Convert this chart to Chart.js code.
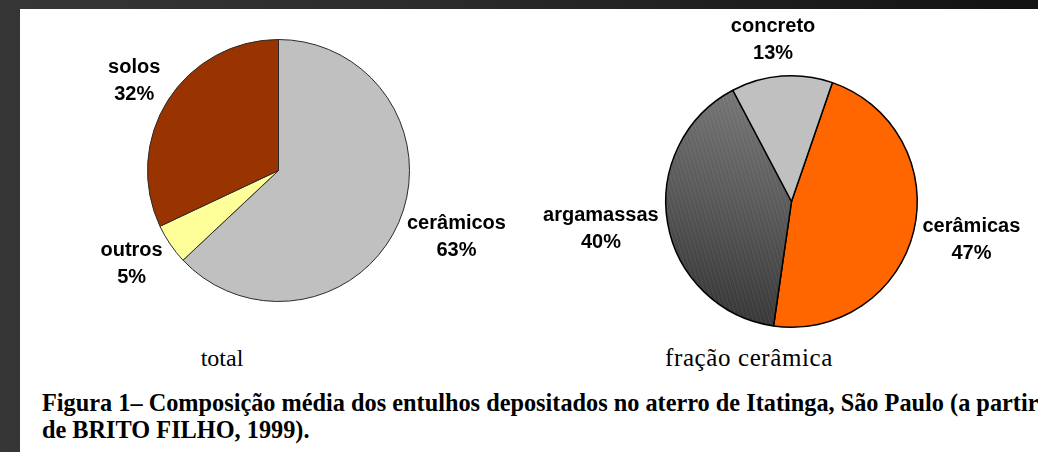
<!DOCTYPE html>
<html lang="pt-BR">
<head>
<meta charset="utf-8">
<script src="https://cdn.jsdelivr.net/npm/chart.js@4.4.1/dist/chart.umd.min.js"></script>
<style>
  html, body {
    margin: 0;
    width: 1038px;
    height: 452px;
    overflow: hidden;
    background: linear-gradient(to right, #363636, #2c2c2c 40%, #121212);
  }
  #folha {
    position: absolute;
    left: 20px;
    top: 9px;
    right: 0;
    bottom: 0;
    background: #ffffff;
    overflow: hidden;
  }
  canvas {
    position: absolute;
  }
  .sub {
    position: absolute;
    font-family: 'Liberation Serif', 'Times New Roman', serif;
    font-size: 24px;
    color: #000;
    white-space: nowrap;
    transform: translateX(-50%);
  }
  .legenda {
    position: absolute;
    left: 22px;
    top: 380px;
    font-family: 'Liberation Serif', 'Times New Roman', serif;
    font-weight: bold;
    font-size: 24.3px;
    line-height: 27px;
    color: #000;
    white-space: nowrap;
  }
</style>
</head>
<body>
<div id="folha">
  <canvas id="grafico-total" width="500" height="330" style="left:0;top:0"></canvas>
  <canvas id="grafico-fracao" width="518" height="330" style="left:500px;top:0"></canvas>
  <div class="sub" style="left:202px;top:336px">total</div>
  <div class="sub" style="left:729px;top:335px;font-size:25px;letter-spacing:0.6px">fração cerâmica</div>
  <div class="legenda">Figura 1– Composição média dos entulhos depositados no aterro de Itatinga, São Paulo (a partir<br>de BRITO FILHO, 1999).</div>
</div>
<script>
// composição total do entulho (%)
const totalLabels = ['cerâmicos', 'outros', 'solos'];
const totalValues = [63, 5, 32];
const totalColors = ['#c0c0c0', '#ffff99', '#993300'];

// fração cerâmica (%)
const fracaoLabels = ['cerâmicas', 'argamassas', 'concreto'];
const fracaoValues = [47, 40, 13];
const fracaoColors = ['#ff6600', '#5a5a5a', '#c0c0c0'];

const LINE_H = 27;

// rótulos fora da pizza: nome na 1a linha, percentual na 2a
const outsideLabels = {
  id: 'outsideLabels',
  afterDatasetsDraw(chart, args, opts) {
    const ctx = chart.ctx;
    const meta = chart.getDatasetMeta(0);
    const names = chart.data.labels;
    const values = chart.data.datasets[0].data;
    ctx.save();
    ctx.font = 'bold 20px "Liberation Sans", Arial, sans-serif';
    ctx.fillStyle = '#000';
    ctx.textAlign = 'center';
    ctx.textBaseline = 'middle';
    meta.data.forEach((arc, i) => {
      const { x, y, startAngle, endAngle, outerRadius } = arc.getProps(
        ['x', 'y', 'startAngle', 'endAngle', 'outerRadius'],
        true
      );
      const mid = (startAngle + endAngle) / 2;
      const lines = [names[i], values[i] + '%'];
      const w = Math.max(...lines.map((t) => ctx.measureText(t).width));
      const h = lines.length * LINE_H;
      const dx = Math.cos(mid);
      const dy = Math.sin(mid);
      // ponto de ancoragem logo fora da borda, caixa do texto encostada nele
      const px = x + dx * (outerRadius + opts.gap);
      const py = y + dy * (outerRadius + opts.gap);
      const kx = Math.max(-1, Math.min(1, dx * 2.5));
      const lx = px + (kx * w) / 2;
      const ly = py + (dy * h) / 2;
      lines.forEach((t, k) => {
        ctx.fillText(t, lx, ly + (k - (lines.length - 1) / 2) * LINE_H);
      });
    });
    ctx.restore();
  },
};

// textura da fatia "argamassas": degradê cinza com listras finas
let argamassaPattern = null;
function getArgamassaFill(chart) {
  const area = chart.chartArea;
  if (!area) return fracaoColors[1];
  if (argamassaPattern) return argamassaPattern;
  const off = document.createElement('canvas');
  off.width = chart.width;
  off.height = chart.height;
  const octx = off.getContext('2d');
  const g = octx.createLinearGradient(
    area.left + area.width * 0.55,
    area.top,
    area.left + area.width * 0.3,
    area.bottom
  );
  g.addColorStop(0, '#7e7e7e');
  g.addColorStop(0.5, '#5c5c5c');
  g.addColorStop(1, '#363636');
  octx.fillStyle = g;
  octx.fillRect(0, 0, off.width, off.height);
  octx.strokeStyle = 'rgba(255,255,255,0.07)';
  octx.lineWidth = 1;
  for (let sx = -400; sx < off.width + 400; sx += 4) {
    octx.beginPath();
    octx.moveTo(sx, 0);
    octx.lineTo(sx + off.height * 0.3, off.height);
    octx.stroke();
  }
  argamassaPattern = chart.ctx.createPattern(off, 'no-repeat');
  return argamassaPattern;
}

Chart.defaults.animation = false;

new Chart(document.getElementById('grafico-total'), {
  type: 'pie',
  plugins: [outsideLabels],
  data: {
    labels: totalLabels,
    datasets: [
      {
        data: totalValues,
        backgroundColor: totalColors,
        borderColor: '#2a2a2a',
        borderWidth: 1,
        hoverOffset: 0,
      },
    ],
  },
  options: {
    responsive: false,
    rotation: 0,
    layout: { padding: { left: 127, top: 30, right: 110, bottom: 37 } },
    events: [],
    plugins: {
      legend: { display: false },
      tooltip: { enabled: false },
      outsideLabels: { gap: 9 },
    },
  },
});

new Chart(document.getElementById('grafico-fracao'), {
  type: 'pie',
  plugins: [outsideLabels],
  data: {
    labels: fracaoLabels,
    datasets: [
      {
        data: fracaoValues,
        backgroundColor: (c) =>
          c.dataIndex === 1 ? getArgamassaFill(c.chart) : fracaoColors[c.dataIndex],
        borderColor: '#000000',
        borderWidth: 1.5,
        hoverOffset: 0,
      },
    ],
  },
  options: {
    responsive: false,
    rotation: 19,
    layout: { padding: { left: 145, top: 66, right: 120, bottom: 11 } },
    events: [],
    plugins: {
      legend: { display: false },
      tooltip: { enabled: false },
      outsideLabels: { gap: 9 },
    },
  },
});
</script>
</body>
</html>
